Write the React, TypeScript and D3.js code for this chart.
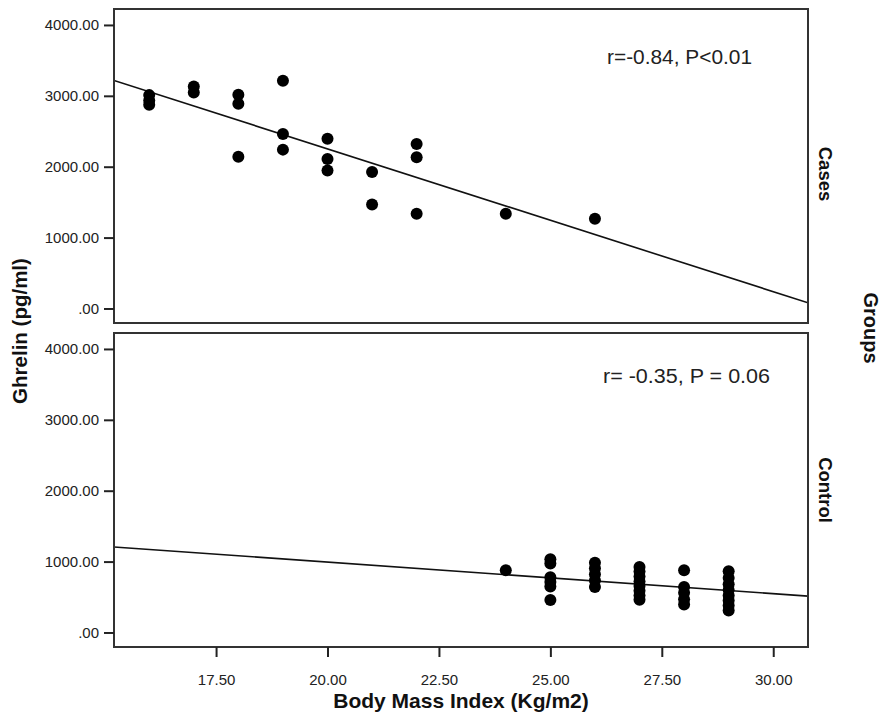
import React, { useRef, useEffect } from "react";
import * as d3 from "d3";

// Cases group
const bmiCases = [16, 16, 16, 17, 17, 18, 18, 18, 19, 19, 19, 20, 20, 20, 21, 21, 22, 22, 22, 24, 26];
const ghrelinCases = [3010, 2935, 2874, 3133, 3048, 3015, 2889, 2139, 3212, 2460, 2241, 2396, 2110, 1946, 1927, 1467, 2321, 2134, 1337, 1337, 1266];

// Control group
const bmiControl = [24, 25, 25, 25, 25, 25, 25, 26, 26, 26, 26, 26, 27, 27, 27, 27, 27, 27, 27, 27, 28, 28, 28, 28, 28, 29, 29, 29, 29, 29, 29, 29, 29];
const ghrelinControl = [879, 1034, 972, 780, 712, 650, 458, 985, 905, 820, 735, 640, 925, 860, 790, 720, 655, 590, 520, 460, 879, 640, 560, 470, 395, 865, 770, 680, 600, 520, 450, 380, 310];

// fit lines (intercept, slope)
const fitCases = [6282, -201.5];
const fitControl = [1885, -44.6];

const groupNames = ["Cases", "Control"];
const annotations = ["r=-0.84, P<0.01", "r= -0.35, P = 0.06"];

const xTicks = [17.5, 20, 22.5, 25, 27.5, 30];
const yTicks = [0, 1000, 2000, 3000, 4000];

const W = 888;
const H = 718;
const left = 114;
const right = 808;
const panels = [
  { top: 9, bottom: 323 },
  { top: 333, bottom: 647 },
];

const font = "'Liberation Sans', Arial, sans-serif";

export default function App() {
  const svgRef = useRef<SVGSVGElement>(null);

  const x = d3.scaleLinear().domain([15.21, 30.78]).range([left, right]);
  const yScales = panels.map((p) =>
    d3.scaleLinear().domain([-205, 4225]).range([p.bottom, p.top])
  );

  const series = [
    { xs: bmiCases, ys: ghrelinCases, fit: fitCases },
    { xs: bmiControl, ys: ghrelinControl, fit: fitControl },
  ];

  useEffect(() => {
    const svg = d3.select(svgRef.current);

    yScales.forEach((y, i) => {
      const yAxis = d3
        .axisLeft(y)
        .tickValues(yTicks)
        .tickSize(10)
        .tickPadding(5)
        .tickFormat((d) => (d === 0 ? ".00" : d3.format(".2f")(d as number)));
      const g = svg.select(`.y-axis-${i}`).call(yAxis as any);
      g.select(".domain").remove();
      g.selectAll(".tick line").attr("stroke", "#222").attr("stroke-width", 2);
      g.selectAll(".tick text")
        .attr("fill", "#222")
        .attr("font-size", 15)
        .attr("font-family", font);
    });

    const xAxis = d3
      .axisBottom(x)
      .tickValues(xTicks)
      .tickSize(10)
      .tickPadding(17)
      .tickFormat(d3.format(".2f") as any);
    const gx = svg.select(".x-axis").call(xAxis as any);
    gx.select(".domain").remove();
    gx.selectAll(".tick line").attr("stroke", "#222").attr("stroke-width", 2);
    gx.selectAll(".tick text")
      .attr("fill", "#222")
      .attr("font-size", 15)
      .attr("font-family", font);
  }, []);

  return (
    <svg
      ref={svgRef}
      width={W}
      height={H}
      style={{ position: "absolute", left: 0, top: 0, background: "#fff" }}
    >
      <rect x={0} y={0} width={W} height={H} fill="#fff" />
      <defs>
        {panels.map((p, i) => (
          <clipPath id={`clip-${i}`} key={i}>
            <rect x={left} y={p.top} width={right - left} height={p.bottom - p.top} />
          </clipPath>
        ))}
      </defs>
      {series.map((s, i) => {
        const y = yScales[i];
        const p = panels[i];
        const [b0, b1] = s.fit;
        const [xa, xb] = x.domain();
        const fitPath = d3
          .line<number>()
          .x((d) => x(d))
          .y((d) => y(b0 + b1 * d))([xa, xb]);
        return (
          <g key={i}>
            <g clipPath={`url(#clip-${i})`}>
              <path d={fitPath || ""} stroke="#111" strokeWidth={1.6} fill="none" />
              {s.xs.map((v, j) => (
                <circle key={j} cx={x(v)} cy={y(s.ys[j])} r={6} fill="#000" />
              ))}
            </g>
            <rect
              x={left}
              y={p.top}
              width={right - left}
              height={p.bottom - p.top}
              fill="none"
              stroke="#333"
              strokeWidth={2}
            />
            <g className={`y-axis-${i}`} transform={`translate(${left},0)`} />
            <text
              x={i === 0 ? 607 : 603}
              y={i === 0 ? 64 : 383}
              fontFamily={font}
              fontSize={20}
              fill="#222"
              textLength={i === 0 ? 145 : 167}
              lengthAdjust="spacingAndGlyphs"
            >
              {annotations[i]}
            </text>
            <text
              transform={`translate(819,${(p.top + p.bottom) / 2 + (i === 0 ? 8 : 0)}) rotate(90)`}
              textAnchor="middle"
              fontFamily={font}
              fontSize={18.5}
              fontWeight="bold"
              fill="#111"
            >
              {groupNames[i]}
            </text>
          </g>
        );
      })}
      <g className="x-axis" transform={`translate(0,${panels[1].bottom})`} />
      <text
        x={(left + right) / 2}
        y={708}
        textAnchor="middle"
        fontFamily={font}
        fontSize={21}
        fontWeight="bold"
        fill="#111"
      >
        Body Mass Index (Kg/m2)
      </text>
      <text
        transform={`translate(27,331) rotate(-90)`}
        textAnchor="middle"
        fontFamily={font}
        fontSize={20.5}
        fontWeight="bold"
        fill="#111"
      >
        Ghrelin (pg/ml)
      </text>
      <text
        transform={`translate(864,328) rotate(90)`}
        textAnchor="middle"
        fontFamily={font}
        fontSize={20}
        fontWeight="bold"
        fill="#111"
      >
        Groups
      </text>
    </svg>
  );
}
